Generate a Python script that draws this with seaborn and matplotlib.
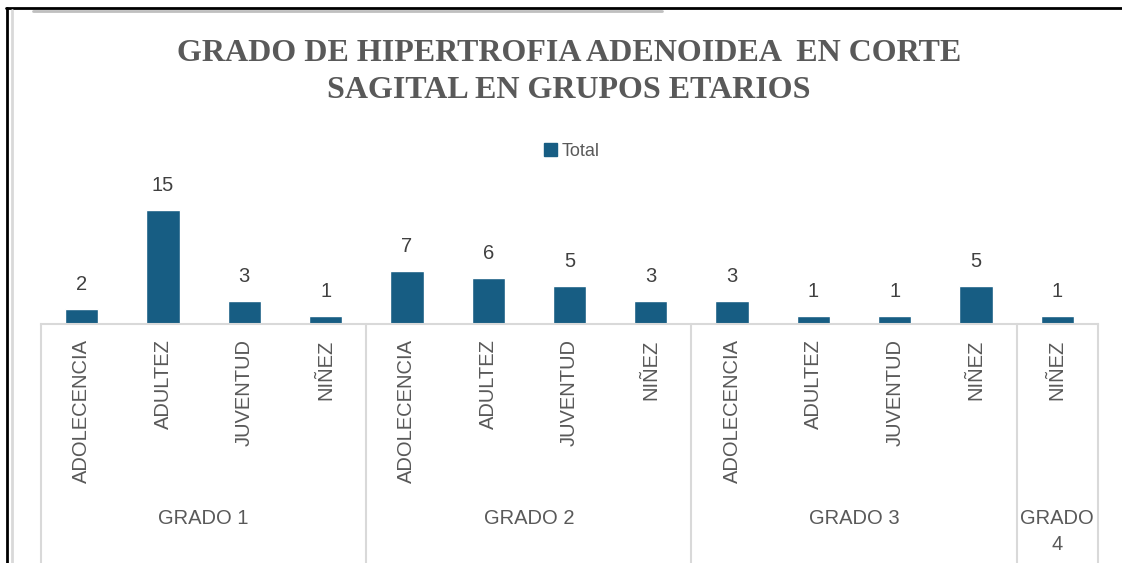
import numpy as np
import pandas as pd
import seaborn as sns
import matplotlib
matplotlib.use("Agg")
from matplotlib import pyplot as plt
from matplotlib.lines import Line2D
from matplotlib.patches import Patch

# data
grados = ["GRADO 1", "GRADO 1", "GRADO 1", "GRADO 1",
          "GRADO 2", "GRADO 2", "GRADO 2", "GRADO 2",
          "GRADO 3", "GRADO 3", "GRADO 3", "GRADO 3",
          "GRADO 4"]
edades = ["ADOLECENCIA", "ADULTEZ", "JUVENTUD", "NIÑEZ",
          "ADOLECENCIA", "ADULTEZ", "JUVENTUD", "NIÑEZ",
          "ADOLECENCIA", "ADULTEZ", "JUVENTUD", "NIÑEZ",
          "NIÑEZ"]
totales = [2, 15, 3, 1, 7, 6, 5, 3, 3, 1, 1, 5, 1]
grupo_nombres = ["GRADO 1", "GRADO 2", "GRADO 3", "GRADO\n4"]

df = pd.DataFrame({"grado": grados, "edad": edades, "total": totales})
df["key"] = df["grado"] + " | " + df["edad"]

W, H = 1122, 563
sns.set_theme(style="white")
plt.rcParams["font.family"] = ["Liberation Sans", "DejaVu Sans"]

bar_color = "#175d83"
txt_color = "#595959"
line_gray = "#d9d9d9"

fig = plt.figure(figsize=(W / 100, H / 100), dpi=100)
fig.patch.set_facecolor("white")

x0, x1, ybase, ytop = 41, 1098, 324, 172
ax = fig.add_axes([x0 / W, 1 - ybase / H, (x1 - x0) / W, (ybase - ytop) / H])

sns.barplot(data=df, x="key", y="total", color=bar_color, width=0.41,
            saturation=1, ax=ax, label="Total", legend=False)
ax.set_ylim(0, 20)
ax.set_xlim(-0.5, len(df) - 0.5)
ax.bar_label(ax.containers[0], padding=11, fontsize=14.5, color="#404040")

ax.set_xticks(range(len(df)))
ax.set_xticklabels(df["edad"], rotation=90, fontsize=14.5, color=txt_color)
ax.tick_params(axis="x", length=0, pad=11)
ax.set_yticks([])
ax.set_xlabel("")
ax.set_ylabel("")
for s in ["top", "left", "right"]:
    ax.spines[s].set_visible(False)
ax.spines["bottom"].set_color(line_gray)
ax.spines["bottom"].set_linewidth(1.5)

# group separators and group labels below the axis
axh = ybase - ytop
trans = ax.get_xaxis_transform()
sep_bottom = -(H - ybase) / axh
for xs in [-0.5, 3.5, 7.5, 11.5, 12.5]:
    ax.plot([xs, xs], [0, sep_bottom], transform=trans, color=line_gray,
            lw=1.5, clip_on=False)

start = 0
for name in grupo_nombres:
    n = grados.count(name.replace("\n", " "))
    xc = start + (n - 1) / 2
    ax.text(xc, -(509 - ybase) / axh, name, transform=trans, ha="center", va="top",
            fontsize=14.5, color=txt_color, linespacing=1.5)
    start += n

# legend
fig.legend(handles=[Patch(color=bar_color, label="Total")], loc="center",
           bbox_to_anchor=(572 / W, 1 - 151 / H), frameon=False, fontsize=13,
           handlelength=0.7, handleheight=0.7, handletextpad=0.3,
           labelcolor=txt_color)

# title
fig.text(569 / W, 1 - 72 / H, "GRADO DE HIPERTROFIA ADENOIDEA  EN CORTE\nSAGITAL EN GRUPOS ETARIOS",
         ha="center", va="center", fontsize=23, fontweight="bold",
         family="Liberation Serif", color=txt_color, linespacing=1.36)

# screenshot frame lines
fig.add_artist(Line2D([6 / W, 1], [1 - 8 / H, 1 - 8 / H], color="black", lw=2))
fig.add_artist(Line2D([7 / W, 7 / W], [0, 1 - 8 / H], color="black", lw=2))
fig.add_artist(Line2D([12 / W, 12 / W], [0, 1 - 10 / H], color=line_gray, lw=2))
fig.add_artist(Line2D([33 / W, 662 / W], [1 - 10.5 / H, 1 - 10.5 / H], color="#bfbfbf", lw=2))

fig.savefig("out.png", dpi=100)
